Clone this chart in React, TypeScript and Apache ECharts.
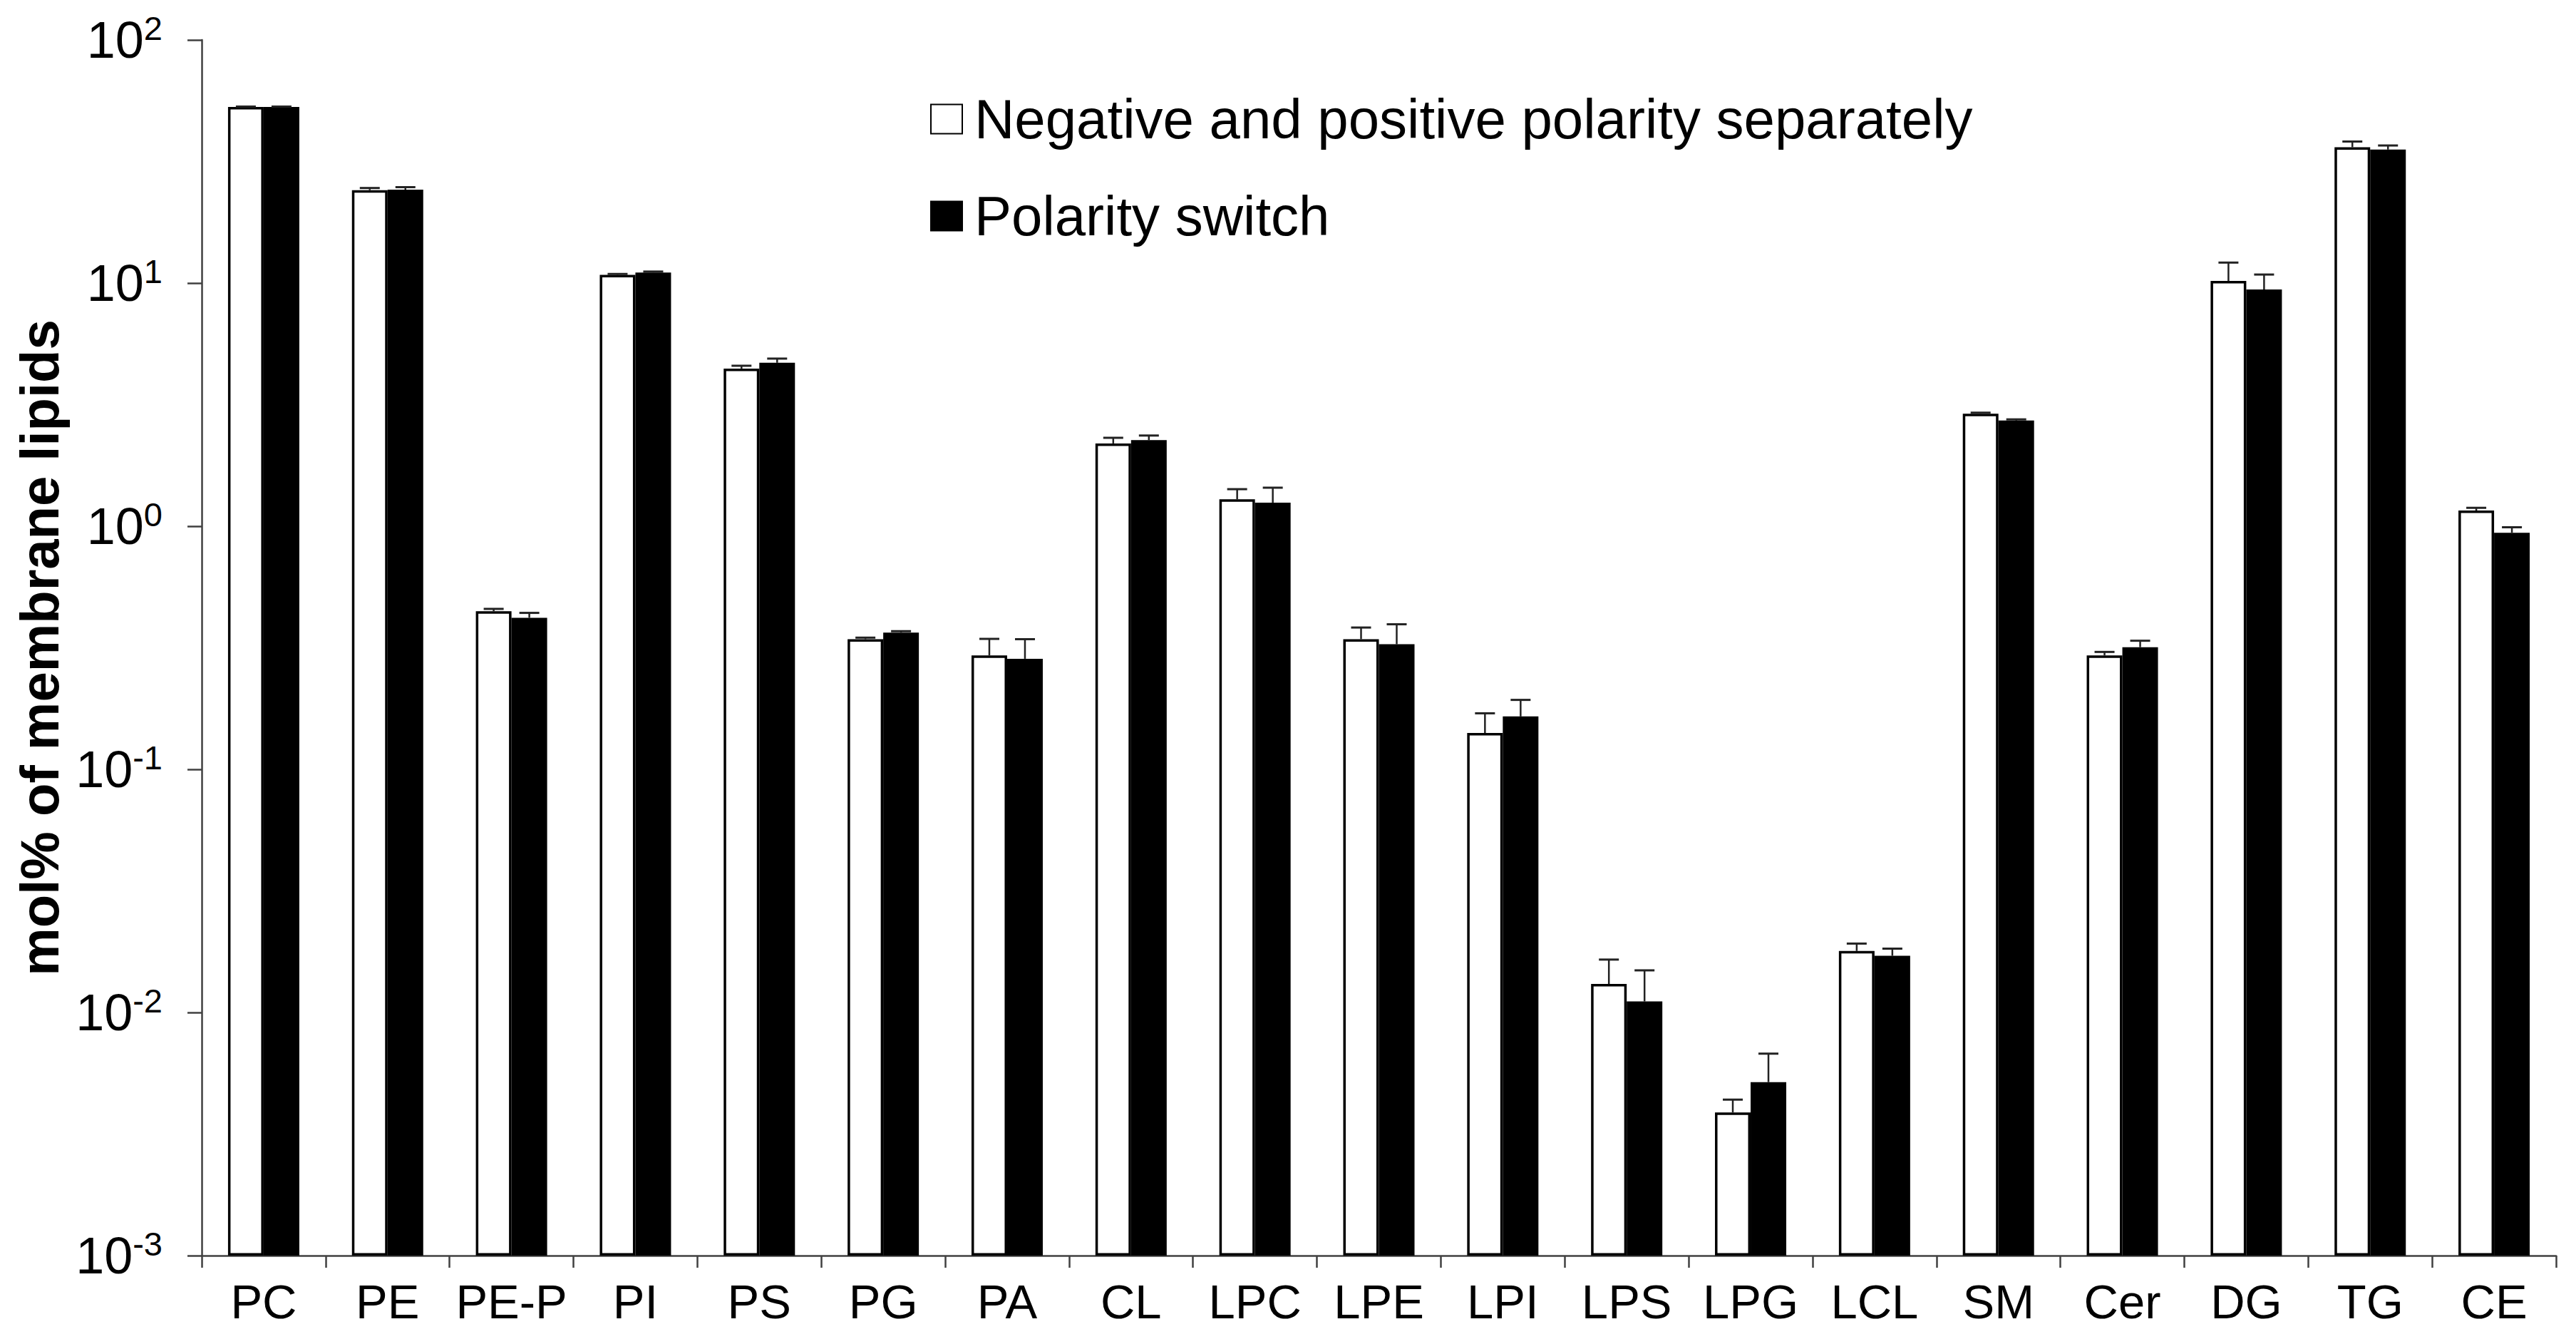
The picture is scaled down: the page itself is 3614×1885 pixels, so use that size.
import React, { useEffect, useRef } from "react";
import * as echarts from "echarts";

const categories = ["PC", "PE", "PE-P", "PI", "PS", "PG", "PA", "CL", "LPC", "LPE", "LPI", "LPS", "LPG", "LCL", "SM", "Cer", "DG", "TG", "CE"];
const seriesNames = ["Negative and positive polarity separately", "Polarity switch"];
const separately = [53, 24.1, 0.447, 10.8, 4.45, 0.343, 0.294, 2.19, 1.29, 0.343, 0.141, 0.0131, 0.00388, 0.0179, 2.9, 0.294, 10.2, 36.2, 1.16];
const switched = [53, 24.2, 0.42, 11.05, 4.7, 0.365, 0.285, 2.26, 1.25, 0.327, 0.165, 0.0111, 0.00517, 0.0171, 2.72, 0.318, 9.41, 35.4, 0.94];
const separatelyErr = [0.2, 0.5, 0.01, 0.1, 0.12, 0.005, 0.05, 0.12, 0.13, 0.04, 0.029, 0.0034, 0.0005, 0.0013, 0.03, 0.01, 1.94, 2.0, 0.03];
const switchedErr = [0.2, 0.6, 0.02, 0.1, 0.19, 0.005, 0.058, 0.1, 0.19, 0.068, 0.028, 0.0038, 0.0016, 0.0012, 0.03, 0.02, 1.43, 1.4, 0.05];
const yMin = 0.001;
const yMax = 100;

const FONT = "'Liberation Sans', Arial, sans-serif";
const BAR_W = 50;

function errorSeries(values: number[], errs: number[], side: number) {
  return {
    type: "custom",
    z: 5,
    silent: true,
    encode: { x: 0, y: [1, 2] },
    data: values.map((v, i) => [i, v, v + errs[i]]),
    renderItem: (params: any, api: any) => {
      const idx = api.value(0);
      const top = api.coord([idx, api.value(1)]);
      const cap = api.coord([idx, api.value(2)]);
      const px = top[0] + side * (BAR_W / 2);
      return {
        type: "group",
        children: [
          { type: "line", shape: { x1: px, y1: top[1], x2: px, y2: cap[1] }, style: { stroke: "#222", lineWidth: 2.5 } },
          { type: "line", shape: { x1: px - 14, y1: cap[1], x2: px + 14, y2: cap[1] }, style: { stroke: "#222", lineWidth: 3 } },
        ],
      };
    },
  };
}

export default function App() {
  const ref = useRef<HTMLDivElement>(null);
  useEffect(() => {
    document.body.style.margin = "0";
    const chart = echarts.init(ref.current!, null, { renderer: "svg" });
    chart.setOption({
      animation: false,
      backgroundColor: "#fff",
      grid: { left: 283, right: 28, top: 56, bottom: 124, containLabel: false },
      legend: {
        data: seriesNames,
        orient: "vertical",
        left: 1305,
        top: 122,
        padding: 0,
        itemWidth: 44,
        itemHeight: 41,
        itemGap: 46,
        icon: "rect",
        selectedMode: false,
        textStyle: { fontFamily: FONT, fontSize: 78, lineHeight: 90, color: "#000", padding: [0, 0, 0, 12] },
      },
      xAxis: {
        type: "category",
        data: categories,
        boundaryGap: true,
        axisLine: { show: true, lineStyle: { color: "#404040", width: 2.5 } },
        axisTick: { show: true, alignWithLabel: false, length: 17, lineStyle: { color: "#404040", width: 2.5 } },
        axisLabel: { interval: 0, margin: 31, fontFamily: FONT, fontSize: 67, color: "#000" },
        splitLine: { show: false },
      },
      yAxis: {
        type: "log",
        logBase: 10,
        min: yMin,
        max: yMax,
        startValue: yMin,
        splitNumber: 5,
        name: "mol% of membrane lipids",
        nameLocation: "middle",
        nameGap: 190,
        nameTextStyle: { fontFamily: FONT, fontSize: 76, fontWeight: "bold", color: "#000" },
        axisLine: { show: true, lineStyle: { color: "#404040", width: 2.5 } },
        axisTick: { show: true, length: 20, lineStyle: { color: "#404040", width: 2.5 } },
        minorTick: { show: false },
        splitLine: { show: false },
        axisLabel: {
          margin: 55,
          formatter: (v: number) => {
            const e = Math.round(Math.log10(v));
            return `{a|10}{b|${e}}`;
          },
          rich: {
            a: { fontFamily: FONT, fontSize: 72, lineHeight: 80, color: "#000" },
            b: { fontFamily: FONT, fontSize: 47, lineHeight: 46, color: "#000", verticalAlign: "top" },
          },
        },
      },
      series: [
        {
          name: seriesNames[0],
          type: "bar",
          barWidth: BAR_W,
          barGap: "0%",
          data: separately,
          itemStyle: { color: "#fff", borderColor: "#000", borderWidth: 3.5 },
        },
        {
          name: seriesNames[1],
          type: "bar",
          barWidth: BAR_W,
          barGap: "0%",
          data: switched,
          itemStyle: { color: "#000", borderColor: "#000", borderWidth: 3.5 },
        },
        errorSeries(separately, separatelyErr, -1),
        errorSeries(switched, switchedErr, 1),
      ],
    });
    return () => chart.dispose();
  }, []);
  return <div ref={ref} style={{ position: "fixed", left: 0, top: 0, width: 3614, height: 1885, background: "#fff" }} />;
}
